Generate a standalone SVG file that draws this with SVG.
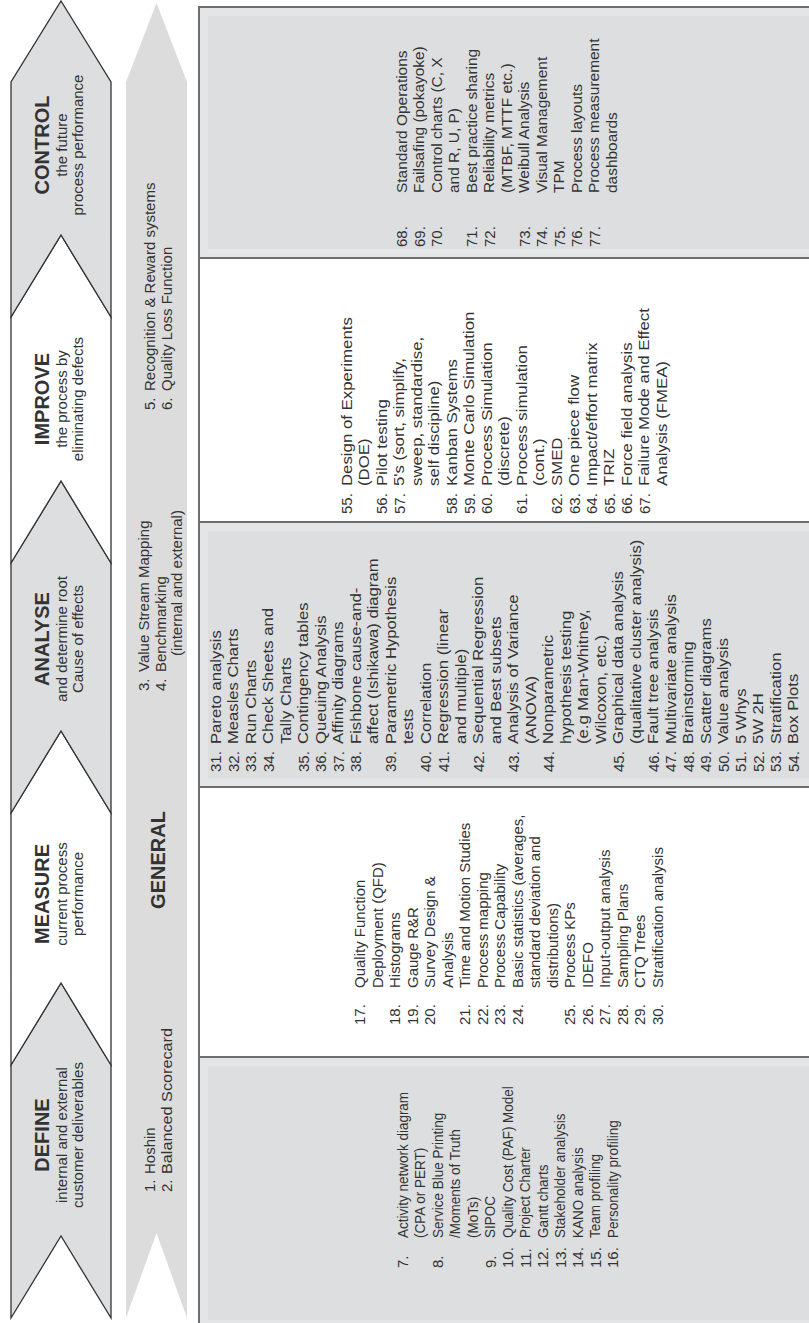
<svg xmlns="http://www.w3.org/2000/svg" width="809" height="1323" viewBox="0 0 809 1323">
<style>
text{font-family:"Liberation Sans",Arial,sans-serif;fill:#333}
.chev{stroke:#333;stroke-width:1.3}
.gr{fill:#dcdee0}
.wh{fill:#fff}
.ttl{font-weight:bold;font-size:20px;text-anchor:middle}
.sub{font-size:15px;text-anchor:middle}
.li{font-size:15px}
.gen{font-size:15px}
.panel{stroke:#6e6e6e;stroke-width:2}
.glow{fill:none;stroke:#e4e5e7;stroke-width:8}
</style>
<rect x="0" y="0" width="809" height="1323" fill="#fff"/>
<g transform="translate(0,1323) rotate(-90)">
  <g id="table">
    <rect class="panel gr" x="-5" y="199" width="271" height="620"/>
    <rect class="glow" x="-1" y="204" width="262" height="620"/>
    <rect class="panel wh" x="266" y="199" width="270" height="620"/>
    <rect class="panel gr" x="536" y="199" width="265" height="620"/>
    <rect class="glow" x="541" y="204" width="255" height="620"/>
    <rect class="panel wh" x="801" y="199" width="264" height="620"/>
    <rect class="panel gr" x="1065" y="199" width="251" height="620"/>
    <rect class="glow" x="1070" y="204" width="241" height="620"/>
    <rect fill="none" class="panel" x="-5" y="199" width="1321" height="620"/>
  </g>
  <g id="phase-define">
    <polygon class="chev gr" points="5,11 258,11 340,61 258,111 5,111 87,61"/>
    <text class="ttl" x="188" y="49">DEFINE</text>
    <text class="sub" x="188" y="67">internal and external</text>
    <text class="sub" x="188" y="83">customer deliverables</text>
  </g>
  <g id="phase-measure">
    <polygon class="chev wh" points="258,11 510,11 592,61 510,111 258,111 340,61"/>
    <text class="ttl" x="429" y="49">MEASURE</text>
    <text class="sub" x="429" y="67">current process</text>
    <text class="sub" x="429" y="83">performance</text>
  </g>
  <g id="phase-analyse">
    <polygon class="chev gr" points="510,11 760,11 842,61 760,111 510,111 592,61"/>
    <text class="ttl" x="684" y="49">ANALYSE</text>
    <text class="sub" x="684" y="67">and determine root</text>
    <text class="sub" x="684" y="83">Cause of effects</text>
  </g>
  <g id="phase-improve">
    <polygon class="chev wh" points="760,11 1006,11 1088,61 1006,111 760,111 842,61"/>
    <text class="ttl" x="924" y="49">IMPROVE</text>
    <text class="sub" x="924" y="67">the process by</text>
    <text class="sub" x="924" y="83">eliminating defects</text>
  </g>
  <g id="phase-control">
    <polygon class="chev gr" points="1006,11 1241,11 1322,61 1241,111 1006,111 1088,61"/>
    <text class="ttl" x="1178" y="49">CONTROL</text>
    <text class="sub" x="1178" y="67">the future</text>
    <text class="sub" x="1178" y="83">process performance</text>
  </g>
  <g id="general">
    <polygon fill="#dcdcdc" points="5,126 1241,126 1320,156.5 1241,187 5,187 90,156.5"/>
    <text class="gen" x="131" y="155">1.</text>
    <text class="gen" x="149" y="155">Hoshin</text>
    <text class="gen" x="131" y="172">2.</text>
    <text class="gen" x="149" y="172" textLength="146" lengthAdjust="spacingAndGlyphs">Balanced Scorecard</text>
    <text class="ttl" x="463" y="165">GENERAL</text>
    <text class="gen" x="632" y="149">3.</text>
    <text class="gen" x="651" y="149">Value Stream Mapping</text>
    <text class="gen" x="632" y="165.5">4.</text>
    <text class="gen" x="651" y="165.5">Benchmarking</text>
    <text class="gen" x="667" y="182">(internal and external)</text>
    <text class="gen" x="913" y="155">5.</text>
    <text class="gen" x="932" y="155">Recognition &amp; Reward systems</text>
    <text class="gen" x="913" y="172">6.</text>
    <text class="gen" x="932" y="172">Quality Loss Function</text>
  </g>
  <g id="list-define" class="li">
    <text><tspan x="55" y="408">7.</tspan><tspan x="55" y="443">8.</tspan><tspan x="55" y="495.5">9.</tspan><tspan x="55" y="513">10.</tspan><tspan x="55" y="530.5">11.</tspan><tspan x="55" y="548">12.</tspan><tspan x="55" y="565.5">13.</tspan><tspan x="55" y="583">14.</tspan><tspan x="55" y="600.5">15.</tspan><tspan x="55" y="618">16.</tspan></text>
    <text transform="translate(85,0) scale(0.9,1)"><tspan x="0" y="408">Activity network diagram</tspan><tspan x="0" y="425.5">(CPA or PERT)</tspan><tspan x="0" y="443">Service Blue Printing</tspan><tspan x="0" y="460.5">/Moments of  Truth</tspan><tspan x="0" y="478">(MoTs)</tspan><tspan x="0" y="495.5">SIPOC</tspan><tspan x="0" y="513">Quality Cost (PAF) Model</tspan><tspan x="0" y="530.5">Project Charter</tspan><tspan x="0" y="548">Gantt charts</tspan><tspan x="0" y="565.5">Stakeholder analysis</tspan><tspan x="0" y="583">KANO analysis</tspan><tspan x="0" y="600.5">Team profiling</tspan><tspan x="0" y="618">Personality profiling</tspan></text>
  </g>
  <g id="list-measure" class="li">
    <text><tspan x="298" y="365">17.</tspan><tspan x="298" y="400">18.</tspan><tspan x="298" y="417.5">19.</tspan><tspan x="298" y="435">20.</tspan><tspan x="298" y="470">21.</tspan><tspan x="298" y="487.5">22.</tspan><tspan x="298" y="505">23.</tspan><tspan x="298" y="522.5">24.</tspan><tspan x="298" y="575">25.</tspan><tspan x="298" y="592.5">26.</tspan><tspan x="298" y="610">27.</tspan><tspan x="298" y="627.5">28.</tspan><tspan x="298" y="645">29.</tspan><tspan x="298" y="662.5">30.</tspan></text>
    <text><tspan x="335" y="365">Quality Function</tspan><tspan x="335" y="382.5">Deployment (QFD)</tspan><tspan x="335" y="400">Histograms</tspan><tspan x="335" y="417.5">Gauge R&amp;R</tspan><tspan x="335" y="435">Survey Design &amp;</tspan><tspan x="335" y="452.5">Analysis</tspan><tspan x="335" y="470">Time and Motion Studies</tspan><tspan x="335" y="487.5">Process mapping</tspan><tspan x="335" y="505">Process Capability</tspan><tspan x="335" y="522.5">Basic statistics (averages,</tspan><tspan x="335" y="540">standard deviation and</tspan><tspan x="335" y="557.5">distributions)</tspan><tspan x="335" y="575">Process KPs</tspan><tspan x="335" y="592.5">IDEFO</tspan><tspan x="335" y="610">Input-output analysis</tspan><tspan x="335" y="627.5">Sampling Plans</tspan><tspan x="335" y="645">CTQ Trees</tspan><tspan x="335" y="662.5">Stratification analysis</tspan></text>
  </g>
  <g id="list-analyse" class="li">
    <text><tspan x="551" y="221">31.</tspan><tspan x="551" y="238.5">32.</tspan><tspan x="551" y="256">33.</tspan><tspan x="551" y="273.5">34.</tspan><tspan x="551" y="308.5">35.</tspan><tspan x="551" y="326">36.</tspan><tspan x="551" y="343.5">37.</tspan><tspan x="551" y="361">38.</tspan><tspan x="551" y="396">39.</tspan><tspan x="551" y="431">40.</tspan><tspan x="551" y="448.5">41.</tspan><tspan x="551" y="483.5">42.</tspan><tspan x="551" y="518.5">43.</tspan><tspan x="551" y="553.5">44.</tspan><tspan x="551" y="623.5">45.</tspan><tspan x="551" y="658.5">46.</tspan><tspan x="551" y="676">47.</tspan><tspan x="551" y="693.5">48.</tspan><tspan x="551" y="711">49.</tspan><tspan x="551" y="728.5">50.</tspan><tspan x="551" y="746">51.</tspan><tspan x="551" y="763.5">52.</tspan><tspan x="551" y="781">53.</tspan><tspan x="551" y="798.5">54.</tspan></text>
    <text transform="translate(579,0) scale(1.11,1)"><tspan x="0" y="221">Pareto analysis</tspan><tspan x="0" y="238.5">Measles Charts</tspan><tspan x="0" y="256">Run Charts</tspan><tspan x="0" y="273.5">Check Sheets and</tspan><tspan x="0" y="291">Tally Charts</tspan><tspan x="0" y="308.5">Contingency tables</tspan><tspan x="0" y="326">Queuing Analysis</tspan><tspan x="0" y="343.5">Affinity diagrams</tspan><tspan x="0" y="361">Fishbone cause-and-</tspan><tspan x="0" y="378.5">affect (Ishikawa) diagram</tspan><tspan x="0" y="396">Parametric Hypothesis</tspan><tspan x="0" y="413.5">tests</tspan><tspan x="0" y="431">Correlation</tspan><tspan x="0" y="448.5">Regression (linear</tspan><tspan x="0" y="466">and multiple)</tspan><tspan x="0" y="483.5">Sequential Regression</tspan><tspan x="0" y="501">and Best subsets</tspan><tspan x="0" y="518.5">Analysis of Variance</tspan><tspan x="0" y="536">(ANOVA)</tspan><tspan x="0" y="553.5">Nonparametric</tspan><tspan x="0" y="571">hypothesis testing</tspan><tspan x="0" y="588.5">(e.g Man-Whitney,</tspan><tspan x="0" y="606">Wilcoxon, etc.)</tspan><tspan x="0" y="623.5">Graphical data analysis</tspan><tspan x="0" y="641">(qualitative cluster analysis)</tspan><tspan x="0" y="658.5">Fault tree analysis</tspan><tspan x="0" y="676">Multivariate analysis</tspan><tspan x="0" y="693.5">Brainstorming</tspan><tspan x="0" y="711">Scatter diagrams</tspan><tspan x="0" y="728.5">Value analysis</tspan><tspan x="0" y="746">5 Whys</tspan><tspan x="0" y="763.5">5W 2H</tspan><tspan x="0" y="781">Stratification</tspan><tspan x="0" y="798.5">Box Plots</tspan></text>
  </g>
  <g id="list-improve" class="li">
    <text><tspan x="809" y="352">55.</tspan><tspan x="809" y="387">56.</tspan><tspan x="809" y="404.5">57.</tspan><tspan x="809" y="457">58.</tspan><tspan x="809" y="474.5">59.</tspan><tspan x="809" y="492">60.</tspan><tspan x="809" y="527">61.</tspan><tspan x="809" y="562">62.</tspan><tspan x="809" y="579.5">63.</tspan><tspan x="809" y="597">64.</tspan><tspan x="809" y="614.5">65.</tspan><tspan x="809" y="632">66.</tspan><tspan x="809" y="649.5">67.</tspan></text>
    <text transform="translate(837,0) scale(1.12,1)"><tspan x="0" y="352">Design of  Experiments</tspan><tspan x="0" y="369.5">(DOE)</tspan><tspan x="0" y="387">Pilot testing</tspan><tspan x="0" y="404.5">5's (sort, simplify,</tspan><tspan x="0" y="422">sweep, standardise,</tspan><tspan x="0" y="439.5">self discipline)</tspan><tspan x="0" y="457">Kanban Systems</tspan><tspan x="0" y="474.5">Monte Carlo Simulation</tspan><tspan x="0" y="492">Process Simulation</tspan><tspan x="0" y="509.5">(discrete)</tspan><tspan x="0" y="527">Process simulation</tspan><tspan x="0" y="544.5">(cont.)</tspan><tspan x="0" y="562">SMED</tspan><tspan x="0" y="579.5">One piece flow</tspan><tspan x="0" y="597">Impact/effort matrix</tspan><tspan x="0" y="614.5">TRIZ</tspan><tspan x="0" y="632">Force field analysis</tspan><tspan x="0" y="649.5">Failure Mode and Effect</tspan><tspan x="0" y="667">Analysis (FMEA)</tspan></text>
  </g>
  <g id="list-control" class="li">
    <text><tspan x="1076" y="407">68.</tspan><tspan x="1076" y="424.5">69.</tspan><tspan x="1076" y="442">70.</tspan><tspan x="1076" y="477">71.</tspan><tspan x="1076" y="494.5">72.</tspan><tspan x="1076" y="529.5">73.</tspan><tspan x="1076" y="547">74.</tspan><tspan x="1076" y="564.5">75.</tspan><tspan x="1076" y="582">76.</tspan><tspan x="1076" y="599.5">77.</tspan></text>
    <text transform="translate(1130,0) scale(1.03,1)"><tspan x="0" y="407">Standard Operations</tspan><tspan x="0" y="424.5">Failsafing (pokayoke)</tspan><tspan x="0" y="442">Control charts (C, X</tspan><tspan x="0" y="459.5">and R, U, P)</tspan><tspan x="0" y="477">Best practice sharing</tspan><tspan x="0" y="494.5">Reliability metrics</tspan><tspan x="0" y="512">(MTBF, MTTF etc.)</tspan><tspan x="0" y="529.5">Weibull Analysis</tspan><tspan x="0" y="547">Visual Management</tspan><tspan x="0" y="564.5">TPM</tspan><tspan x="0" y="582">Process layouts</tspan><tspan x="0" y="599.5">Process measurement</tspan><tspan x="0" y="617">dashboards</tspan></text>
  </g>
</g>
</svg>
